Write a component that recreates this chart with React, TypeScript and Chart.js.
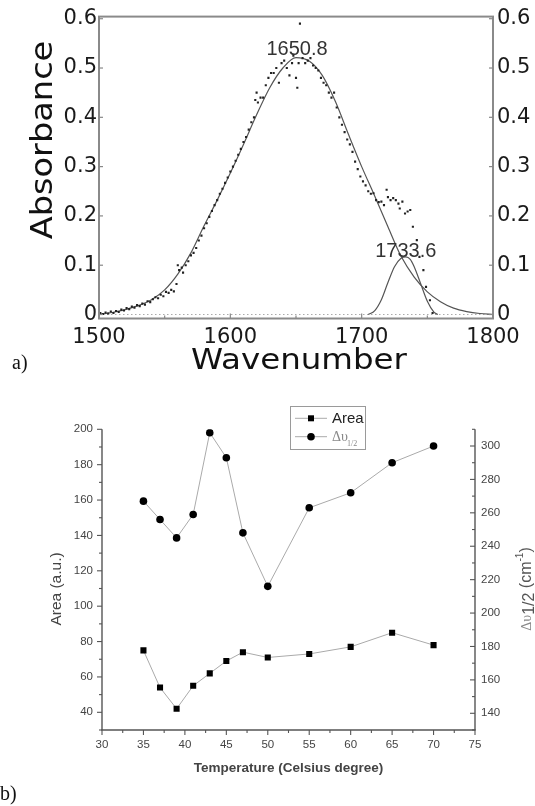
import React, { useEffect, useRef } from 'react';
import { Chart, registerables } from 'chart.js';

Chart.register(...registerables);

// ---------------- Panel a: FTIR band fit ----------------
const specX = [
  1501, 1503, 1505, 1507, 1509, 1511, 1513, 1515, 1517, 1519, 1521, 1523, 1525, 1527, 1529, 1531, 1533, 1535, 1537, 1539,
  1541, 1543, 1545, 1547, 1549, 1551, 1553, 1555, 1557, 1559, 1560, 1561, 1563, 1564, 1566, 1568, 1570, 1572, 1574, 1576,
  1578, 1580, 1582, 1584, 1586, 1588, 1590, 1592, 1594, 1596, 1598, 1600, 1602, 1604, 1606, 1608, 1610, 1612, 1614, 1616,
  1618, 1619, 1620, 1621, 1623, 1625, 1627, 1629, 1631, 1633, 1635, 1637, 1639, 1641, 1643, 1645, 1647, 1648, 1650, 1651,
  1652, 1653, 1655, 1657, 1659, 1661, 1663, 1665, 1667, 1669, 1671, 1673, 1675, 1677, 1679, 1681, 1683, 1685, 1687, 1689,
  1691, 1693, 1695, 1697, 1699, 1701, 1703, 1705, 1707, 1709, 1711, 1713, 1715, 1717, 1719, 1720, 1722, 1724, 1726, 1728,
  1729, 1731, 1733, 1735, 1737, 1739, 1742, 1744, 1747, 1749, 1752, 1754,
];
const specY = [
  0.003, 0.001, 0.004, 0.002, 0.006, 0.003, 0.007, 0.005, 0.01, 0.008, 0.013, 0.011, 0.016, 0.014, 0.019, 0.017, 0.022, 0.02, 0.027, 0.025,
  0.031, 0.035, 0.033, 0.04, 0.037, 0.046, 0.044, 0.05, 0.047, 0.062, 0.1, 0.09, 0.095, 0.085, 0.1, 0.108, 0.12, 0.125, 0.135, 0.15,
  0.16, 0.175, 0.185, 0.198, 0.21, 0.222, 0.232, 0.245, 0.255, 0.267, 0.278, 0.29, 0.3, 0.312, 0.324, 0.336, 0.35, 0.36, 0.375, 0.39,
  0.4, 0.435, 0.45, 0.43, 0.44, 0.44, 0.465, 0.48, 0.49, 0.49, 0.5, 0.47, 0.51, 0.515, 0.5, 0.485, 0.51, 0.525, 0.48, 0.46,
  0.51, 0.59, 0.52, 0.51, 0.515, 0.52, 0.505, 0.5, 0.495, 0.48, 0.47, 0.465, 0.45, 0.44, 0.45, 0.42, 0.4, 0.385, 0.37, 0.355,
  0.345, 0.33, 0.31, 0.295, 0.28, 0.27, 0.262, 0.25, 0.245, 0.246, 0.232, 0.228, 0.229, 0.222, 0.253, 0.238, 0.232, 0.236, 0.232, 0.225,
  0.215, 0.229, 0.205, 0.209, 0.212, 0.178, 0.151, 0.117, 0.09, 0.056, 0.029, 0.003,
];
const fitX = [
  1500, 1510, 1520, 1530, 1540, 1550, 1560, 1570, 1580, 1590, 1600, 1610, 1620, 1630, 1640, 1650,
  1660, 1670, 1680, 1690, 1700, 1710, 1720, 1730, 1740, 1750, 1760, 1770, 1780, 1790, 1800,
];
const mainFitY = [
  0.0, 0.004, 0.01, 0.018, 0.03, 0.05, 0.082, 0.125, 0.18, 0.232, 0.287, 0.345, 0.405, 0.46, 0.5, 0.521,
  0.514, 0.485, 0.432, 0.365, 0.3, 0.24, 0.178, 0.118, 0.076, 0.046, 0.026, 0.013, 0.006, 0.002, 0.0,
];
const peak2X = [1705, 1710, 1715, 1720, 1725, 1730, 1733.6, 1737, 1740, 1745, 1750, 1755, 1758];
const peak2Y = [0, 0.008, 0.03, 0.065, 0.097, 0.114, 0.117, 0.112, 0.097, 0.062, 0.027, 0.005, 0];
const baselineX = [1500, 1800];
const baselineY = [0, 0];
const peakLabelText = ['1650.8', '1733.6'];
const peakLabelX = [1650.8, 1733.6];
const peakLabelY = [0.537, 0.127];
const xTicksA = [1500, 1600, 1700, 1800];
const xMinorA = [1550, 1650, 1750];
const yTicksA = [0, 0.1, 0.2, 0.3, 0.4, 0.5, 0.6];
const yTickLabelsA = ['0', '0.1', '0.2', '0.3', '0.4', '0.5', '0.6'];
const yMinA = -0.0081;
const yMaxA = 0.6043;

// ---------------- Panel b: Area and half width vs temperature ----------------
const temps = [35, 37, 39, 41, 43, 45, 47, 50, 55, 60, 65, 70];
const areaVals = [75, 54, 42, 55, 62, 69, 74, 71, 73, 77, 85, 78];
const widthVals = [267, 256, 245, 259, 308, 293, 248, 216, 263, 272, 290, 300];
const xTicksB = [30, 35, 40, 45, 50, 55, 60, 65, 70, 75];
const xMinorB = [32.5, 37.5, 42.5, 47.5, 52.5, 57.5, 62.5, 67.5, 72.5];
const yTicksB = [40, 60, 80, 100, 120, 140, 160, 180, 200];
const yMinorB = [30, 50, 70, 90, 110, 130, 150, 170, 190];
const y2TicksB = [140, 160, 180, 200, 220, 240, 260, 280, 300];
const y2MinorB = [130, 150, 170, 190, 210, 230, 250, 270, 290, 310];

const W = 535;
const HA = 385;
const HB = 421;

function txt(
  ctx: CanvasRenderingContext2D, s: string, x: number, y: number, font: string, color: string,
  rot = 0, sx = 1, align: CanvasTextAlign = 'center', base: CanvasTextBaseline = 'middle'
) {
  ctx.save();
  ctx.translate(x, y);
  ctx.rotate(rot);
  ctx.scale(sx, 1);
  ctx.font = font;
  ctx.fillStyle = color;
  ctx.textAlign = align;
  ctx.textBaseline = base;
  ctx.fillText(s, 0, 0);
  ctx.restore();
}

function seg(ctx: CanvasRenderingContext2D, x1: number, y1: number, x2: number, y2: number) {
  ctx.beginPath();
  ctx.moveTo(x1, y1);
  ctx.lineTo(x2, y2);
  ctx.stroke();
}

const pluginA = {
  id: 'panelA',
  afterDatasetsDraw(chart: any) {
    const { ctx, chartArea } = chart;
    const { left, right, top, bottom } = chartArea;
    const x = chart.scales.x;
    const y = chart.scales.y;
    ctx.save();
    ctx.strokeStyle = '#8a8a8a';
    ctx.lineWidth = 2;
    ctx.strokeRect(left, top, right - left, bottom - top);
    ctx.lineWidth = 1.2;
    ctx.strokeStyle = '#888';
    xTicksA.forEach((v) => { const p = x.getPixelForValue(v); seg(ctx, p, bottom, p, bottom - 5); });
    xMinorA.forEach((v) => { const p = x.getPixelForValue(v); seg(ctx, p, bottom, p, bottom - 3); });
    yTicksA.forEach((v) => {
      const p = y.getPixelForValue(v);
      seg(ctx, left, p, left + 4, p);
      seg(ctx, right, p, right - 4, p);
    });
    peakLabelText.forEach((s, i) => {
      txt(ctx, s, x.getPixelForValue(peakLabelX[i]), y.getPixelForValue(peakLabelY[i]),
        '20px "Liberation Sans", Arial, sans-serif', '#333');
    });
    const cx = (left + right) / 2;
    txt(ctx, 'Wavenumber', cx + 3, 369, '29px "DejaVu Sans", sans-serif', '#111', 0, 1.12, 'center', 'alphabetic');
    txt(ctx, 'Absorbance', 44, 140, '30px "DejaVu Sans", sans-serif', '#111', -Math.PI / 2, 1.12, 'center', 'middle');
    ctx.restore();
  },
};

const pluginB = {
  id: 'panelB',
  afterDatasetsDraw(chart: any) {
    const { ctx, chartArea } = chart;
    const { left, right, top, bottom } = chartArea;
    const x = chart.scales.x;
    const y = chart.scales.y;
    const y2 = chart.scales.y2;
    ctx.save();
    ctx.strokeStyle = '#555';
    ctx.lineWidth = 1.4;
    seg(ctx, left, top, left, bottom);
    seg(ctx, left - 0.7, bottom, right + 0.7, bottom);
    seg(ctx, right, top, right, bottom);
    ctx.lineWidth = 1.1;
    xTicksB.forEach((v) => { const p = x.getPixelForValue(v); seg(ctx, p, bottom, p, bottom + 5); });
    xMinorB.forEach((v) => { const p = x.getPixelForValue(v); seg(ctx, p, bottom, p, bottom + 3); });
    yTicksB.forEach((v) => { const p = y.getPixelForValue(v); seg(ctx, left, p, left - 5, p); });
    yMinorB.forEach((v) => { const p = y.getPixelForValue(v); seg(ctx, left, p, left - 3, p); });
    y2TicksB.forEach((v) => { const p = y2.getPixelForValue(v); seg(ctx, right, p, right - 5, p); });
    y2MinorB.forEach((v) => { const p = y2.getPixelForValue(v); seg(ctx, right, p, right - 3, p); });

    // axis titles
    txt(ctx, 'Temperature (Celsius degree)', (left + right) / 2, 383, 'bold 13.5px "Liberation Sans", Arial, sans-serif', '#444');
    txt(ctx, 'Area (a.u.)', 57, 204, '15.5px "Liberation Sans", Arial, sans-serif', '#444', -Math.PI / 2);

    // right title: Δυ1/2 (cm-1), rotated
    ctx.save();
    ctx.translate(531, 204);
    ctx.rotate(-Math.PI / 2);
    ctx.textBaseline = 'alphabetic';
    ctx.textAlign = 'left';
    const parts: [string, string, number, string][] = [
      ['Δυ', '14px "Liberation Serif", serif', 0, '#888'],
      ['1/2', '16px "Liberation Sans", Arial, sans-serif', 3, '#555'],
      [' (cm', '16px "Liberation Sans", Arial, sans-serif', 0, '#555'],
      ['-1', '10px "Liberation Sans", Arial, sans-serif', -8, '#555'],
      [')', '16px "Liberation Sans", Arial, sans-serif', 0, '#555'],
    ];
    let total = 0;
    parts.forEach(([s, f]) => { ctx.font = f; total += ctx.measureText(s).width; });
    let px = -total / 2;
    parts.forEach(([s, f, dy, c]) => {
      ctx.font = f;
      ctx.fillStyle = c;
      ctx.fillText(s, px, dy);
      px += ctx.measureText(s).width;
    });
    ctx.restore();

    // legend
    ctx.strokeStyle = '#9a9a9a';
    ctx.lineWidth = 1;
    ctx.strokeRect(290.5, 21.5, 75, 43);
    const ds0 = chart.data.datasets[0];
    const ds1 = chart.data.datasets[1];
    ctx.strokeStyle = ds0.borderColor;
    ctx.lineWidth = 1;
    seg(ctx, 295, 33.3, 327, 33.3);
    seg(ctx, 295, 51.7, 327, 51.7);
    ctx.fillStyle = ds0.pointBackgroundColor;
    ctx.fillRect(311 - 3, 33.3 - 3, 6, 6);
    ctx.fillStyle = ds1.pointBackgroundColor;
    ctx.beginPath();
    ctx.arc(311, 51.7, 3.8, 0, Math.PI * 2);
    ctx.fill();
    txt(ctx, 'Area', 332, 34, '15px "Liberation Sans", Arial, sans-serif', '#222', 0, 1, 'left', 'middle');
    txt(ctx, 'Δυ', 332, 52, '14px "Liberation Serif", serif', '#888', 0, 1, 'left', 'middle');
    txt(ctx, '1/2', 347, 58.5, '8px "Liberation Serif", serif', '#888', 0, 1, 'left', 'middle');
    ctx.restore();
  },
};

export default function App() {
  const refA = useRef<HTMLCanvasElement>(null);
  const refB = useRef<HTMLCanvasElement>(null);

  useEffect(() => {
    document.body.style.margin = '0';
    const tickFontA = { family: '"DejaVu Sans", sans-serif', size: 21 };
    const chartA = new Chart(refA.current as HTMLCanvasElement, {
      type: 'scatter',
      data: {
        datasets: [
          {
            label: 'data',
            data: specX.map((v, i) => ({ x: v, y: specY[i] })),
            showLine: false,
            pointStyle: 'rect',
            pointRadius: 1.5,
            pointBorderWidth: 0,
            pointBackgroundColor: '#222',
          },
          {
            label: 'band 1650.8',
            data: fitX.map((v, i) => ({ x: v, y: mainFitY[i] })),
            showLine: true,
            pointRadius: 0,
            borderColor: '#555',
            borderWidth: 1.2,
            cubicInterpolationMode: 'monotone',
          },
          {
            label: 'band 1733.6',
            data: peak2X.map((v, i) => ({ x: v, y: peak2Y[i] })),
            showLine: true,
            pointRadius: 0,
            borderColor: '#555',
            borderWidth: 1.2,
            cubicInterpolationMode: 'monotone',
          },
          {
            label: 'baseline',
            data: baselineX.map((v, i) => ({ x: v, y: baselineY[i] })),
            showLine: true,
            pointRadius: 0,
            borderColor: '#aaa',
            borderWidth: 1,
            borderDash: [1.5, 2.5],
          },
        ],
      } as any,
      options: {
        responsive: false,
        animation: false,
        layout: { padding: { top: 16, left: 0, right: 0, bottom: 0 } },
        plugins: { legend: { display: false }, tooltip: { enabled: false } },
        scales: {
          x: {
            type: 'linear',
            min: 1500,
            max: 1800,
            grid: { display: false, drawTicks: false },
            border: { display: false },
            afterBuildTicks: (s: any) => { s.ticks = xTicksA.map((v) => ({ value: v })); },
            afterFit: (s: any) => { s.height = HA - 318.5; },
            ticks: { font: tickFontA, color: '#1a1a1a', padding: 6, maxRotation: 0, callback: (v: any) => String(v) },
          },
          y: {
            type: 'linear',
            position: 'left',
            min: yMinA,
            max: yMaxA,
            grid: { display: false, drawTicks: false },
            border: { display: false },
            afterBuildTicks: (s: any) => { s.ticks = yTicksA.map((v) => ({ value: v })); },
            afterFit: (s: any) => { s.width = 99; },
            ticks: { font: tickFontA, color: '#1a1a1a', padding: 2, callback: (_v: any, i: number) => yTickLabelsA[i] },
          },
          y2: {
            type: 'linear',
            position: 'right',
            min: yMinA,
            max: yMaxA,
            grid: { display: false, drawTicks: false },
            border: { display: false },
            afterBuildTicks: (s: any) => { s.ticks = yTicksA.map((v) => ({ value: v })); },
            afterFit: (s: any) => { s.width = W - 493; },
            ticks: { font: tickFontA, color: '#1a1a1a', padding: 4, callback: (_v: any, i: number) => yTickLabelsA[i] },
          },
        },
      } as any,
      plugins: [pluginA],
    });

    const tickFontB = { family: '"Liberation Sans", Arial, sans-serif', size: 11.5 };
    const chartB = new Chart(refB.current as HTMLCanvasElement, {
      type: 'scatter',
      data: {
        datasets: [
          {
            label: 'Area',
            data: temps.map((v, i) => ({ x: v, y: areaVals[i] })),
            yAxisID: 'y',
            showLine: true,
            borderColor: '#aaa',
            borderWidth: 1,
            pointStyle: 'rect',
            pointRadius: 4.3,
            pointBorderWidth: 0,
            pointBackgroundColor: '#000',
            pointBorderColor: '#000',
          },
          {
            label: 'Δυ1/2',
            data: temps.map((v, i) => ({ x: v, y: widthVals[i] })),
            yAxisID: 'y2',
            showLine: true,
            borderColor: '#aaa',
            borderWidth: 1,
            pointStyle: 'circle',
            pointRadius: 3.8,
            pointBorderWidth: 0,
            pointBackgroundColor: '#000',
            pointBorderColor: '#000',
          },
        ],
      } as any,
      options: {
        responsive: false,
        animation: false,
        layout: { padding: { top: 44.3, left: 0, right: 0, bottom: 0 } },
        plugins: { legend: { display: false }, tooltip: { enabled: false } },
        scales: {
          x: {
            type: 'linear',
            min: 30,
            max: 75,
            grid: { display: false, drawTicks: false },
            border: { display: false },
            afterBuildTicks: (s: any) => { s.ticks = xTicksB.map((v) => ({ value: v })); },
            afterFit: (s: any) => { s.height = HB - 345; },
            ticks: { font: tickFontB, color: '#444', padding: 8, maxRotation: 0, callback: (v: any) => String(v) },
          },
          y: {
            type: 'linear',
            position: 'left',
            min: 30,
            max: 200,
            grid: { display: false, drawTicks: false },
            border: { display: false },
            afterBuildTicks: (s: any) => { s.ticks = yTicksB.map((v) => ({ value: v })); },
            afterFit: (s: any) => { s.width = 102; },
            ticks: { font: tickFontB, color: '#444', padding: 9, callback: (v: any) => String(v) },
          },
          y2: {
            type: 'linear',
            position: 'right',
            min: 130,
            max: 310,
            grid: { display: false, drawTicks: false },
            border: { display: false },
            afterBuildTicks: (s: any) => { s.ticks = y2TicksB.map((v) => ({ value: v })); },
            afterFit: (s: any) => { s.width = W - 475; },
            ticks: { font: tickFontB, color: '#444', padding: 6, callback: (v: any) => String(v) },
          },
        },
      } as any,
      plugins: [pluginB],
    });

    return () => {
      chartA.destroy();
      chartB.destroy();
    };
  }, []);

  return (
    <div style={{ position: 'relative', width: W, height: 806, background: '#fff', overflow: 'hidden' }}>
      <canvas ref={refA} width={W} height={HA} style={{ position: 'absolute', left: 0, top: 0, width: W, height: HA }} />
      <canvas ref={refB} width={W} height={HB} style={{ position: 'absolute', left: 0, top: HA, width: W, height: HB }} />
      <div style={{ position: 'absolute', left: 12, top: 349, fontFamily: '"Liberation Serif", serif', fontSize: 20, lineHeight: '26px', color: '#111' }}>a)</div>
      <div style={{ position: 'absolute', left: 0, top: 780, fontFamily: '"Liberation Serif", serif', fontSize: 20, lineHeight: '26px', color: '#111' }}>b)</div>
    </div>
  );
}
